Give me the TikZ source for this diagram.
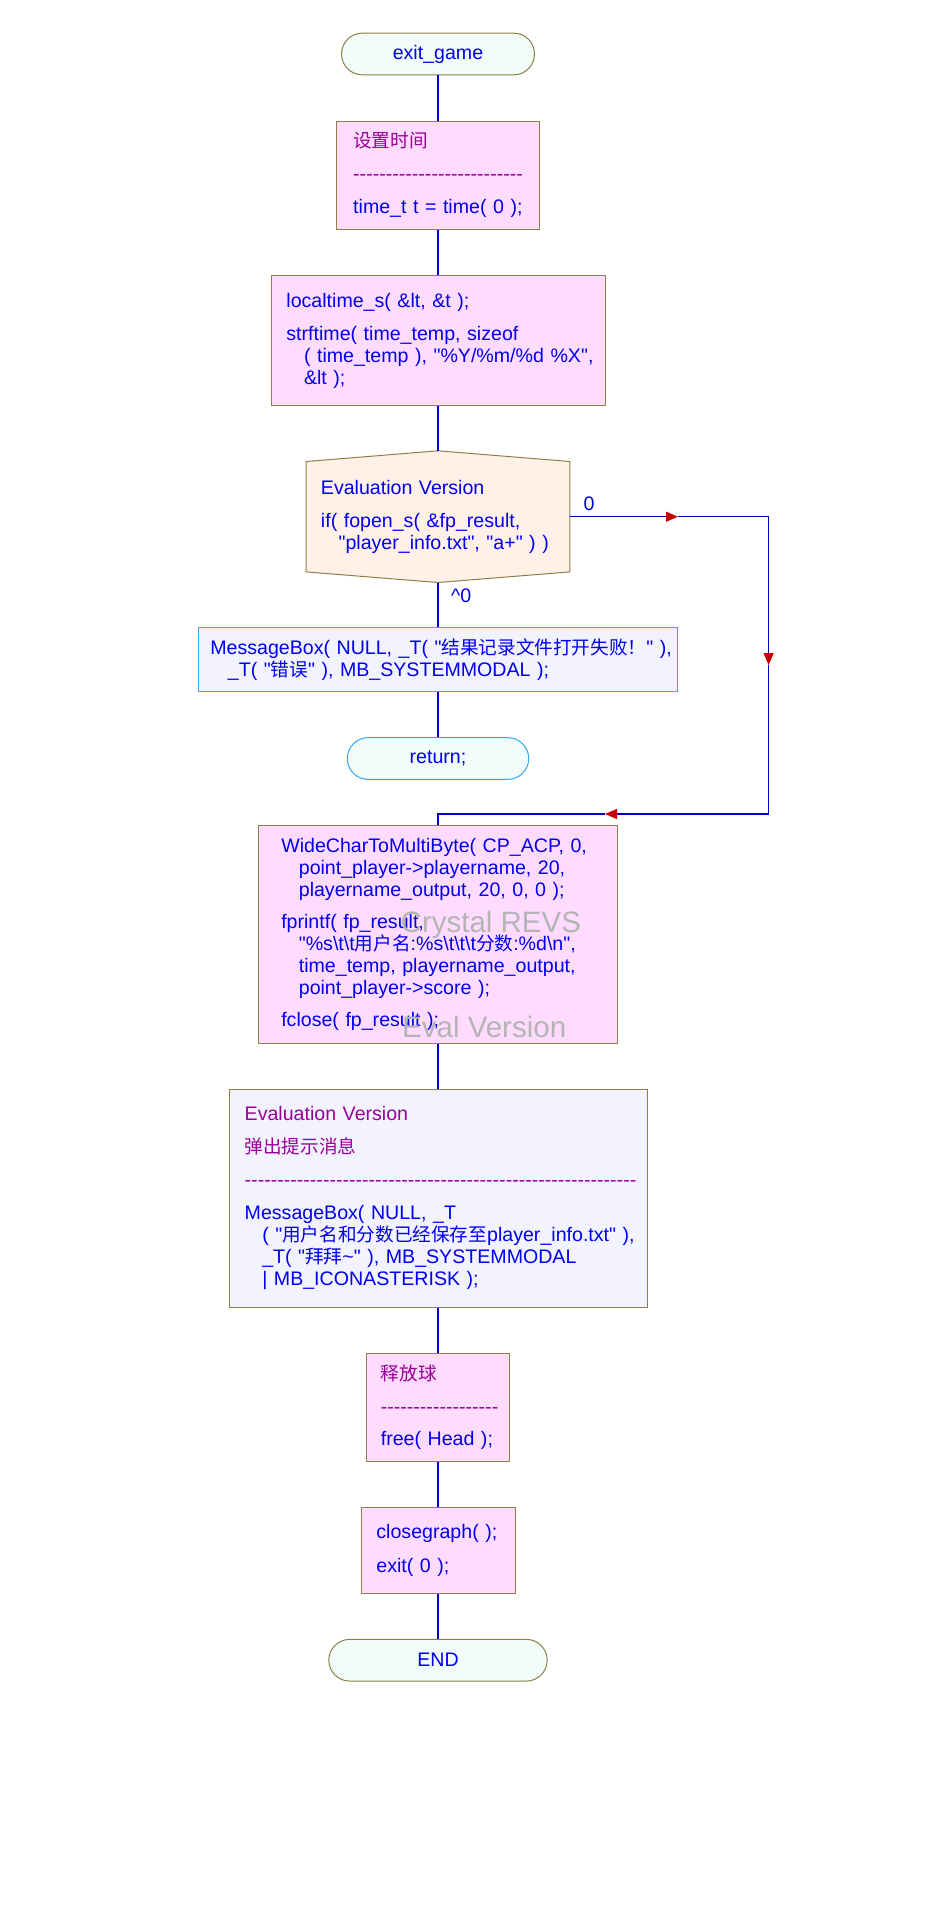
\documentclass[tikz,border=0pt]{standalone}
\usepackage{fontspec}
\usetikzlibrary{arrows.meta,calc,backgrounds}
\newfontfamily\codefont{Liberation Sans}
\newfontfamily\cjk{Noto Sans CJK SC}[Scale=0.95]
\definecolor{codeblue}{HTML}{0000F0}
\definecolor{cmt}{HTML}{990099}
\definecolor{lineblue}{HTML}{0000C0}
\definecolor{arrred}{HTML}{C80000}
\definecolor{olivebd}{HTML}{8C8048}
\definecolor{procfill}{HTML}{FFDCFF}
\definecolor{termfill}{HTML}{F2FCF9}
\definecolor{decfill}{HTML}{FFF0E8}
\definecolor{msgfill}{HTML}{F3F3FF}
\definecolor{skyborder}{HTML}{33AAEE}
\definecolor{wmgray}{HTML}{B4B4B4}
\newcommand\codeln[1]{\mbox{#1}}
\newcommand\bsl{\textbackslash}
\newcommand\dashrow[1]{\foreach\dashidx in {1,...,#1}{\mbox{-}}}
\tikzset{
  txt/.style={font=\codefont\fontsize{19.6}{22}\selectfont, text=codeblue},
  procbox/.style={txt, draw=olivebd, fill=procfill, line width=1pt, align=left, inner ysep=0pt},
  lavbox/.style={procbox, fill=msgfill},
  msgbox/.style={txt, draw=skyborder, fill=msgfill, line width=1pt, align=left, inner ysep=0pt},
  term/.style={txt, draw=olivebd, fill=termfill, line width=1pt, rounded corners=20.8pt, minimum height=41.7pt},
  retterm/.style={term, draw=skyborder},
  decnode/.style={txt, align=left, inner ysep=0pt},
  flow/.style={draw=lineblue, line width=1.2pt},
  arr/.style={-{Triangle[length=12pt,width=10pt,color=arrred]}},
  lbl/.style={txt, inner sep=0pt},
  wm/.style={font=\codefont\fontsize{29.5}{32}\selectfont, text=wmgray, inner sep=0pt},
}
\begin{document}
\begin{tikzpicture}[x=1pt,y=-1pt]
\useasboundingbox (0,0) rectangle (948,1914);

\node[term, minimum width=193pt] (start) at (438,54) {exit\_game};

\node[procbox, minimum width=202.4pt, minimum height=108.3pt, text width=169.6pt, inner xsep=16.4pt] (settime) at (438,175.2) {%
 \codeln{\textcolor{cmt}{\cjk 设置时间}}\\[11pt]
 \codeln{\textcolor{cmt}{\dashrow{26}}}\\[11pt]
 \codeln{time\_t t = time( 0 );}};

\node[procbox, minimum width=334pt, minimum height=130pt, text width=303.2pt, inner xsep=15.4pt] (fmt) at (438,340.7) {%
 \codeln{localtime\_s( \&lt, \&t );}\\[10.7pt]
 \codeln{strftime( time\_temp, sizeof}\\
 \codeln{\hspace*{17.6pt}( time\_temp ), "\%Y/\%m/\%d \%X",}\\
 \codeln{\hspace*{17.6pt}\&lt );}};

\node[decnode, minimum width=263.3pt, minimum height=110pt, text width=234.1pt, inner xsep=14.6pt] (cond) at (438,516.7) {%
 \codeln{Evaluation Version}\\[10.7pt]
 \codeln{if( fopen\_s( \&fp\_result,}\\
 \codeln{\hspace*{17.6pt}"player\_info.txt", "a+" ) )}};
\coordinate (ctop) at ($(cond.north)+(0,-10.7)$);
\coordinate (cbot) at ($(cond.south)+(0,10.6)$);

\node[msgbox, minimum width=478.4pt, minimum height=63.3pt, text width=455.4pt, inner xsep=11.5pt] (err) at (438,659.4) {%
 \codeln{MessageBox( NULL, \_T( "{\cjk 结果记录文件打开失败！}" ),}\\
 \codeln{\hspace*{17.6pt}\_T( "{\cjk 错误}" ), MB\_SYSTEMMODAL );}};

\node[retterm, minimum width=181.4pt] (ret) at (438,758.5) {return;};

\node[procbox, minimum width=358.1pt, minimum height=217.3pt, text width=313.5pt, inner xsep=22.3pt] (write) at (438,934.4) {%
 \codeln{WideCharToMultiByte( CP\_ACP, 0,}\\
 \codeln{\hspace*{17.6pt}point\_player->playername, 20,}\\
 \codeln{\hspace*{17.6pt}playername\_output, 20, 0, 0 );}\\[10pt]
 \codeln{fprintf( fp\_result,}\\
 \codeln{\hspace*{17.6pt}"\%s\bsl t\bsl t{\cjk 用户名}:\%s\bsl t\bsl t\bsl t{\cjk 分数}:\%d\bsl n",}\\
 \codeln{\hspace*{17.6pt}time\_temp, playername\_output,}\\
 \codeln{\hspace*{17.6pt}point\_player->score );}\\[10.6pt]
 \codeln{fclose( fp\_result );}};

\node[lavbox, minimum width=418pt, minimum height=218pt, text width=386.6pt, inner xsep=15.7pt] (notify) at (438,1198.3) {%
 \codeln{\textcolor{cmt}{Evaluation Version}}\\[11pt]
 \codeln{\textcolor{cmt}{\cjk 弹出提示消息}}\\[11pt]
 \codeln{\textcolor{cmt}{\dashrow{60}}}\\[11pt]
 \codeln{MessageBox( NULL, \_T}\\
 \codeln{\hspace*{17.6pt}( "{\cjk 用户名和分数已经保存至}player\_info.txt" ),}\\
 \codeln{\hspace*{17.6pt}\_T( "{\cjk 拜拜}\textasciitilde" ), MB\_SYSTEMMODAL}\\
 \codeln{\hspace*{17.6pt}| MB\_ICONASTERISK );}};

\node[procbox, minimum width=142.4pt, minimum height=108pt, text width=114.4pt, inner xsep=14pt] (freeb) at (438,1407.3) {%
 \codeln{\textcolor{cmt}{\cjk 释放球}}\\[11pt]
 \codeln{\textcolor{cmt}{\dashrow{18}}}\\[10.4pt]
 \codeln{free( Head );}};

\node[procbox, minimum width=154pt, minimum height=86pt, text width=123.2pt, inner xsep=15.4pt] (close) at (438,1550.3) {%
 \codeln{closegraph( );}\\[11.4pt]
 \codeln{exit( 0 );}};

\node[term, minimum width=218.4pt] (finish) at (438,1660.2) {END};

\node[wm, anchor=base west] (wm1) at (400.5,932.5) {Crystal REVS};
\node[wm, anchor=base west] (wm2) at (402,1037.7) {Eval Version};

\node[lbl, anchor=base west] (lzero) at (583.5,510.5) {0};
\node[lbl, anchor=base west] (lnz) at (451,602) {\textasciicircum 0};

\coordinate (a1) at (678,516.7);
\coordinate (r1) at (768.6,516.7);
\coordinate (a2) at (768.6,665);
\coordinate (r2) at (768.6,814);
\coordinate (a3) at (605,814);
\coordinate (m1) at (438,814);

\draw[flow] (start) -- (settime);
\draw[flow] (settime) -- (fmt);
\draw[flow] (fmt) -- (ctop);
\draw[flow] (cbot) -- (err);
\draw[flow] (err) -- (ret);
\draw[flow,arr] (cond.east) -- (a1);
\draw[flow,arr] (a1) -- (r1) -- (a2);
\draw[flow,arr] (a2) -- (r2) -- (a3);
\draw[flow] (a3) -- (m1) -- (write);
\draw[flow] (write) -- (notify);
\draw[flow] (notify) -- (freeb);
\draw[flow] (freeb) -- (close);
\draw[flow] (close) -- (finish);

\begin{pgfonlayer}{background}
\fill[white] (0,0) rectangle (948,1914);
\filldraw[draw=olivebd, fill=decfill, line width=1pt] (cond.north west) -- (ctop) -- (cond.north east) -- (cond.south east) -- (cbot) -- (cond.south west) -- cycle;
\end{pgfonlayer}
\end{tikzpicture}
\end{document}
